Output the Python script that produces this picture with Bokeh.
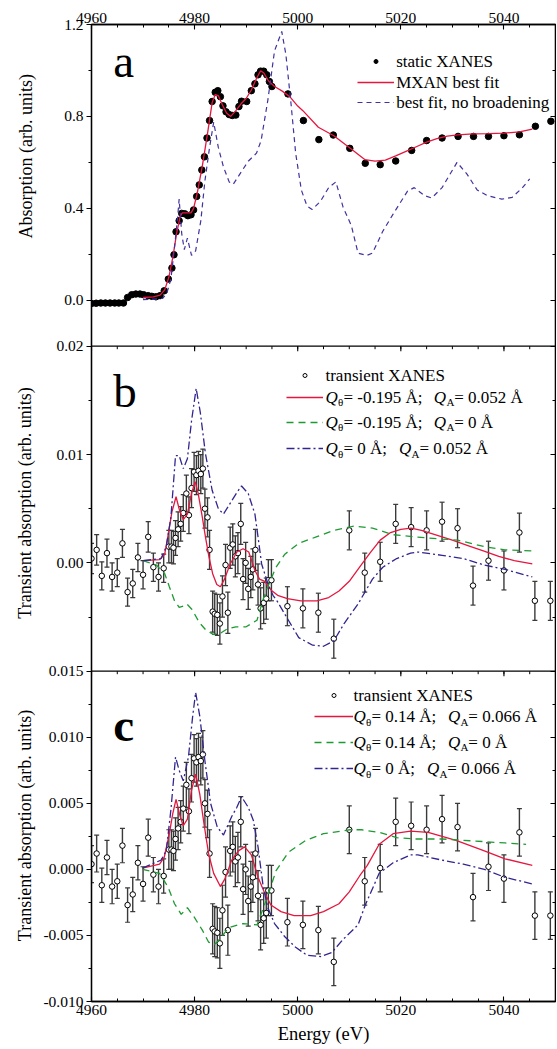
import math
from bokeh.plotting import figure
from bokeh.layouts import row
from bokeh.models import (Range1d, LinearAxis, FixedTicker, Label, Legend,
                          LegendItem, Span, BasicTickFormatter)
from bokeh.embed import file_html
from bokeh.resources import INLINE

# ---------------------------------------------------------------- data
# panel a : static XANES
energy_static = [4960.0, 4960.9, 4961.8, 4962.7, 4963.6, 4964.5, 4965.3, 4966.2,
                 4967.0, 4967.8, 4968.6, 4969.4, 4970.1, 4971.0, 4971.7, 4972.5,
                 4973.3, 4974.1, 4974.9, 4975.6, 4976.0, 4976.4, 4977.0, 4977.5,
                 4978.1, 4978.7, 4979.3, 4979.8, 4980.4, 4980.9, 4981.4, 4981.9,
                 4982.4, 4982.9, 4983.4, 4984.0, 4984.5, 4985.0, 4985.5, 4986.1,
                 4986.7, 4987.3, 4988.0, 4988.6, 4989.1, 4990.1, 4991.0, 4991.7,
                 4992.3, 4992.8, 4993.4, 4994.0, 4994.5, 4995.0, 4998.1, 5001.1,
                 5004.1, 5006.9, 5010.1, 5013.1, 5016.0, 5019.0, 5022.1, 5025.0,
                 5028.0, 5031.1, 5034.1, 5037.0, 5040.0, 5043.0, 5046.1, 5049.1]
absorption_static = [-0.014, -0.013, -0.012, -0.012, -0.012, -0.012, -0.012, -0.012,
                     0.012, 0.024, 0.027, 0.027, 0.024, 0.020, 0.017, 0.015,
                     0.020, 0.041, 0.092, 0.140, 0.198, 0.298, 0.346, 0.378,
                     0.376, 0.368, 0.372, 0.393, 0.452, 0.502, 0.567, 0.624,
                     0.706, 0.782, 0.865, 0.905, 0.912, 0.886, 0.846, 0.820,
                     0.808, 0.804, 0.806, 0.843, 0.866, 0.865, 0.912, 0.942,
                     0.981, 0.997, 0.997, 0.981, 0.952, 0.930, 0.898, 0.782,
                     0.699, 0.719, 0.661, 0.596, 0.590, 0.606, 0.652, 0.695,
                     0.706, 0.713, 0.713, 0.713, 0.716, 0.720, 0.757, 0.779]

energy_mxan = [4970.0, 4972.0, 4973.3, 4974.2, 4975.0, 4975.8, 4976.5, 4977.2, 4977.6,
               4978.5, 4979.3, 4979.8, 4980.5, 4981.5, 4982.5, 4983.4, 4984.0, 4984.6,
               4985.4, 4986.2, 4987.0, 4988.0, 4989.0, 4990.0, 4991.0, 4992.0, 4992.8,
               4993.4, 4994.3, 4995.5, 4997.0, 4998.5, 5000.0, 5001.0, 5004.0, 5007.0,
               5010.0, 5013.0, 5015.0, 5017.0, 5019.0, 5021.0, 5023.0, 5025.0, 5027.0,
               5029.0, 5031.0, 5034.0, 5037.0, 5040.0, 5043.0, 5045.5]
mxan_fit = [0.012, 0.015, 0.022, 0.045, 0.100, 0.190, 0.290, 0.365, 0.380,
            0.380, 0.380, 0.400, 0.465, 0.585, 0.725, 0.860, 0.895, 0.890,
            0.850, 0.815, 0.800, 0.825, 0.855, 0.878, 0.915, 0.965, 0.998,
            0.990, 0.955, 0.930, 0.910, 0.885, 0.845, 0.825, 0.753, 0.716,
            0.665, 0.612, 0.605, 0.610, 0.628, 0.648, 0.668, 0.688, 0.703,
            0.714, 0.720, 0.724, 0.725, 0.727, 0.733, 0.745]

energy_nobroad = [4970.0, 4972.0, 4973.8, 4974.6, 4975.4, 4976.1, 4976.7, 4977.0, 4977.5,
                  4978.0, 4978.6, 4979.4, 4980.2, 4981.2, 4982.0, 4982.9, 4983.7, 4984.6,
                  4985.6, 4986.7, 4987.5, 4988.8, 4990.4, 4992.0, 4992.9, 4994.2, 4995.5,
                  4996.9, 4997.7, 4998.7, 4999.6, 5000.7, 5001.8, 5002.8, 5004.4, 5006.0,
                  5007.4, 5008.8, 5010.4, 5011.7, 5013.4, 5014.5, 5016.5, 5018.5, 5021.3,
                  5022.6, 5024.6, 5026.0, 5028.0, 5030.9, 5032.8, 5034.8, 5036.8, 5039.6,
                  5041.6, 5043.6, 5045.0]
nobroad_fit = [0.003, 0.005, 0.008, 0.030, 0.092, 0.230, 0.360, 0.440, 0.290,
               0.220, 0.270, 0.195, 0.215, 0.345, 0.520, 0.665, 0.775, 0.665,
               0.580, 0.515, 0.505, 0.550, 0.605, 0.640, 0.695, 0.870, 1.085,
               1.170, 1.070, 0.855, 0.640, 0.480, 0.410, 0.395, 0.430, 0.490,
               0.515, 0.405, 0.325, 0.205, 0.195, 0.205, 0.300, 0.375, 0.475,
               0.490, 0.455, 0.445, 0.490, 0.600, 0.550, 0.480, 0.455, 0.440,
               0.448, 0.490, 0.528]

# panels b and c : transient XANES (same measurement in both panels)
energy_tr = [4960.0, 4961.0, 4962.0, 4963.0, 4964.0, 4965.0, 4966.0, 4967.0, 4968.0,
             4969.0, 4970.0, 4971.0, 4972.0, 4973.0, 4974.0,
             4975.0, 4975.5, 4975.9, 4976.3, 4976.8, 4977.3, 4977.8, 4978.4, 4978.9,
             4979.4, 4979.9, 4980.35, 4980.75, 4981.2, 4981.6, 4982.0, 4982.5, 4982.9,
             4983.5, 4983.9, 4984.4, 4984.9, 4985.4, 4986.0, 4986.45, 4986.9, 4987.4,
             4987.9, 4988.4, 4988.95, 4989.4, 4989.9, 4990.4, 4990.9, 4991.3, 4991.8,
             4992.3, 4992.8, 4993.4, 4993.9, 4994.3, 4994.9,
             4998.0, 5001.0, 5004.0, 5007.0, 5010.0, 5013.0, 5016.0, 5019.0, 5022.0,
             5025.0, 5028.0, 5031.0, 5034.0, 5037.0, 5040.0, 5043.0, 5046.0, 5049.0]
transient = [0.0004, 0.0012, -0.0012, 0.0009, -0.0013, -0.0009, 0.0018, -0.0027, -0.0019,
             0.0005, -0.0011, 0.0024, -0.0004, -0.0013, -0.0005,
             0.0015, 0.0015, 0.0014, 0.0023, 0.0031, 0.0036, 0.0046, 0.0064, 0.0044,
             0.0069, 0.0084, 0.0081, 0.0085, 0.0082, 0.0087, 0.0050, 0.0042, 0.0012,
             -0.0045, -0.0047, -0.0048, -0.0056, -0.0031, -0.0002, -0.0046, 0.0014, 0.0017,
             0.0006, 0.0009, 0.0036, -0.0015, 0.0000, -0.0024, -0.0013, -0.0006, 0.0012,
             -0.0020, -0.0042, -0.0037, -0.0033, -0.0016, -0.0016,
             -0.0040, -0.0042, -0.0046, -0.0070, 0.0030, -0.0009, 0.0001, 0.0036, 0.0033,
             0.0030, 0.0038, 0.0032, -0.0021, 0.0002, -0.0007, 0.0028, -0.0035, -0.0035]
transient_err = [0.0014, 0.0014, 0.0013, 0.0013, 0.0013, 0.0013, 0.0013, 0.0013, 0.0013,
                 0.0013, 0.0013, 0.0014, 0.0013, 0.0013, 0.0013,
                 0.0015, 0.0015, 0.0015, 0.0016, 0.0016, 0.0016, 0.0017, 0.0017, 0.0017,
                 0.0018, 0.0018, 0.0018, 0.0018, 0.0018, 0.0018, 0.0018, 0.0018, 0.0018,
                 0.0019, 0.0019, 0.0019, 0.0019, 0.0019, 0.0019, 0.0019, 0.0019, 0.0019,
                 0.0019, 0.0019, 0.0019, 0.0019, 0.0019, 0.0019, 0.0019, 0.0019, 0.0019,
                 0.0019, 0.0019, 0.0019, 0.0019, 0.0019, 0.0019,
                 0.0018, 0.0018, 0.0018, 0.0018, 0.0018, 0.0018, 0.0018, 0.0018, 0.0018,
                 0.0018, 0.0018, 0.0018, 0.0018, 0.0018, 0.0018, 0.0018, 0.0018, 0.0018]

# panel b model curves
energy_b_full = [4970.0, 4973.2, 4974.2, 4974.8, 4975.6, 4976.4, 4977.1, 4977.8, 4978.6,
                 4979.4, 4980.1, 4980.7, 4981.5, 4982.1, 4982.8, 4983.5, 4984.3, 4985.0,
                 4985.8, 4986.9, 4988.2, 4989.4, 4990.5, 4991.7, 4992.6, 4993.6, 4994.8,
                 4996.1, 4998.0, 5000.6, 5003.7, 5006.0, 5008.0, 5010.0, 5012.0, 5014.0,
                 5016.0, 5018.0, 5020.0, 5022.0, 5024.0, 5026.0, 5028.0, 5030.0, 5033.0,
                 5036.0, 5039.0, 5042.0, 5045.5]
b_full = [0.0002, 0.0003, 0.0008, 0.0024, 0.0047, 0.0061, 0.0048, 0.0040, 0.0045,
          0.0064, 0.0075, 0.0064, 0.0042, 0.0024, 0.0005, -0.0010, -0.0020, -0.0022,
          -0.0015, -0.0001, 0.0010, 0.0013, 0.0010, -0.0007, -0.0015, -0.0017, -0.0025,
          -0.0030, -0.0033, -0.0035, -0.0035, -0.0032, -0.0026, -0.0017, -0.0004, 0.0009,
          0.0021, 0.0028, 0.0031, 0.0032, 0.0030, 0.0027, 0.0024, 0.0021, 0.0016,
          0.0011, 0.0006, 0.0002, -0.0001]
energy_b_theta = [4970.0, 4972.6, 4974.2, 4975.1, 4976.1, 4977.0, 4977.8, 4978.5, 4979.5,
                  4980.9, 4982.2, 4983.6, 4985.0, 4986.3, 4988.0, 4990.0, 4992.1, 4993.4,
                  4994.8, 4995.8, 4997.5, 5000.2, 5003.6, 5007.0, 5011.0, 5014.5, 5018.5,
                  5022.6, 5028.0, 5031.0, 5036.2, 5040.2, 5045.5]
b_theta = [0.0002, -0.0002, -0.0010, -0.0022, -0.0035, -0.0041, -0.0040, -0.0038, -0.0043,
           -0.0055, -0.0062, -0.0066, -0.0065, -0.0061, -0.0059, -0.0059, -0.0053, -0.0032,
           -0.0015, -0.0004, 0.0008, 0.0018, 0.0024, 0.0030, 0.0034, 0.0032, 0.0026,
           0.0024, 0.0022, 0.0021, 0.0015, 0.0012, 0.0011]
energy_b_a = [4970.0, 4973.5, 4974.5, 4975.4, 4976.3, 4977.0, 4977.8, 4978.6, 4979.4,
              4980.3, 4981.1, 4982.1, 4983.4, 4984.6, 4985.6, 4986.9, 4988.2, 4989.1,
              4990.4, 4991.7, 4992.3, 4993.0, 4994.2, 4995.2, 4996.1, 4998.2, 5000.2,
              5002.9, 5005.0, 5007.0, 5009.0, 5011.7, 5014.5, 5016.5, 5019.2, 5021.9,
              5023.3, 5028.0, 5032.1, 5036.2, 5040.2, 5045.5]
b_a = [0.0002, 0.0004, 0.0015, 0.0042, 0.0099, 0.0099, 0.0087, 0.0096, 0.0131,
       0.0161, 0.0139, 0.0101, 0.0067, 0.0050, 0.0045, 0.0055, 0.0065, 0.0071,
       0.0064, 0.0045, 0.0024, -0.0001, -0.0019, -0.0030, -0.0036, -0.0053, -0.0069,
       -0.0076, -0.0077, -0.0072, -0.0056, -0.0038, -0.0015, -0.0004, 0.0004, 0.0009,
       0.0010, 0.0007, 0.0004, -0.0002, -0.0006, -0.0013]

# panel c model curves
energy_c_full = [4969.9, 4973.2, 4974.1, 4975.1, 4975.75, 4976.4, 4977.2, 4977.8, 4978.6,
                 4979.4, 4980.2, 4981.0, 4981.8, 4982.7, 4983.7, 4985.0, 4985.9, 4987.2,
                 4988.5, 4989.7, 4991.0, 4992.3, 4993.6, 4994.8, 4996.75, 4999.3, 5002.5,
                 5005.0, 5008.0, 5010.0, 5012.0, 5013.5, 5015.8, 5018.5, 5021.9, 5025.3,
                 5030.7, 5036.2, 5040.2, 5045.5]
c_full = [0.0001, 0.0004, 0.0009, 0.0027, 0.0042, 0.0053, 0.0040, 0.0033, 0.0038,
          0.0060, 0.0072, 0.0057, 0.0035, 0.0012, -0.0003, -0.0013, -0.0007, 0.0007,
          0.0014, 0.0017, 0.0011, -0.0006, -0.0018, -0.0027, -0.0032, -0.0035, -0.0035,
          -0.0032, -0.0026, -0.0017, -0.0005, 0.0003, 0.0019, 0.0027, 0.0029, 0.0028,
          0.0022, 0.0014, 0.0008, 0.0003]
energy_c_theta = [4969.9, 4973.2, 4974.8, 4976.1, 4977.4, 4978.6, 4979.9, 4981.5, 4982.7,
                  4983.8, 4984.6, 4986.65, 4989.4, 4992.1, 4994.1, 4995.8, 4998.2, 5001.6,
                  5005.0, 5010.1, 5012.4, 5015.8, 5019.2, 5022.6, 5028.0, 5032.1, 5036.2,
                  5040.2, 5044.3]
c_theta = [0.0000, -0.0003, -0.0013, -0.0026, -0.0034, -0.0029, -0.0036, -0.0046, -0.0055,
           -0.0057, -0.0054, -0.0044, -0.0041, -0.0042, -0.0021, -0.0001, 0.0013, 0.0022,
           0.0027, 0.0030, 0.0030, 0.0028, 0.0024, 0.0023, 0.0023, 0.0022, 0.0021,
           0.0020, 0.0019]
energy_c_a = [4969.9, 4973.5, 4974.5, 4975.4, 4976.3, 4977.0, 4977.8, 4978.8, 4979.6,
              4980.2, 4981.0, 4982.0, 4983.1, 4984.4, 4985.6, 4987.2, 4988.2, 4989.1,
              4990.4, 4991.4, 4992.3, 4993.3, 4994.2, 4995.5, 4997.5, 4999.6, 5001.8,
              5004.4, 5006.6, 5008.8, 5011.7, 5013.1, 5015.8, 5018.5, 5021.9, 5023.3,
              5028.0, 5032.1, 5036.2, 5040.2, 5045.5]
c_a = [0.0001, 0.0007, 0.0014, 0.0045, 0.0085, 0.0075, 0.0067, 0.0085, 0.0115,
       0.0134, 0.0116, 0.0082, 0.0050, 0.0032, 0.0026, 0.0040, 0.0047, 0.0055,
       0.0047, 0.0037, 0.0017, -0.0013, -0.0029, -0.0041, -0.0051, -0.0059, -0.0065,
       -0.0066, -0.0063, -0.0053, -0.0042, -0.0027, -0.0003, 0.0005, 0.0011, 0.0011,
       0.0007, 0.0004, 0.0000, -0.0006, -0.0011]

# axis ticks
energy_ticks = [4960, 4980, 5000, 5020, 5040]
energy_minor = [4960 + 5 * i for i in range(19)]
ticks_a = [0.0, 0.4, 0.8, 1.2]
tick_labels_a = ["0.0", "0.4", "0.8", "1.2"]
minor_a = [0.2, 0.6, 1.0]
ticks_b = [0.0, 0.01, 0.02]
tick_labels_b = ["0.00", "0.01", "0.02"]
minor_b = [-0.005, 0.005, 0.015]
ticks_c = [-0.010, -0.005, 0.0, 0.005, 0.010, 0.015]
tick_labels_c = ["-0.010", "-0.005", "0.000", "0.005", "0.010", "0.015"]
minor_c = [-0.0075, -0.0025, 0.0025, 0.0075, 0.0125]

# ---------------------------------------------------------------- layout
FONT = "Liberation Serif"
RED = "#E5173F"
BLUE_A = "#3F339F"
BLUE = "#31268F"
GREEN = "#1F9A33"
BAR = "#3a3a3a"

TITLE_W = 40
W_MAIN, H_CANVAS = 516, 1048
B_LEFT, B_RIGHT, B_TOP, B_BOTTOM = 44, 1, 24, 47
FW = W_MAIN - B_LEFT - B_RIGHT          # 471
FH = H_CANVAS - B_TOP - B_BOTTOM        # 977

X0, X1 = 4960.0, 5050.0
# vertical layout expressed in page pixels (frame top 24, bottom 1001)
REF_TOP, REF_BOT = 24.0, 1001.0
BANDS = {"a": (-0.2, 1.2, 24.0, 345.7),
         "b": (-0.010, 0.020, 345.7, 670.7),
         "c": (-0.010, 0.015, 670.7, 1001.0)}


def band_range(lo, hi, top, bot):
    s = (hi - lo) / (bot - top)
    return Range1d(start=lo - (REF_BOT - bot) * s, end=hi + (top - REF_TOP) * s)


def ref_y(panel, v):
    lo, hi, top, bot = BANDS[panel]
    return round(top + (hi - v) / (hi - lo) * (bot - top), 3)


PX_PER_EV = FW / (X1 - X0)
LEFT_PX = TITLE_W + B_LEFT              # page x of the frame's left edge


def ex(xr):
    """page pixel x -> energy"""
    return X0 + (xr - LEFT_PX) / PX_PER_EV


p = figure(width=W_MAIN, height=H_CANVAS,
           x_range=Range1d(X0, X1), y_range=Range1d(REF_BOT, REF_TOP),
           x_axis_location=None, y_axis_location=None,
           output_backend="svg", toolbar_location=None,
           min_border_left=B_LEFT, min_border_right=B_RIGHT,
           min_border_top=B_TOP, min_border_bottom=B_BOTTOM)
p.extra_y_ranges = {k: band_range(*v) for k, v in BANDS.items()}
p.grid.visible = False
p.outline_line_color = "black"
p.outline_line_width = 1.3
p.background_fill_color = "white"
p.border_fill_color = "white"


def style_axis(ax, size="15.5px"):
    ax.axis_line_color = "black"
    ax.axis_line_width = 1.3
    ax.major_tick_line_color = "black"
    ax.minor_tick_line_color = "black"
    ax.major_tick_line_width = 1.1
    ax.minor_tick_line_width = 1.0
    ax.major_label_text_font = FONT
    ax.major_label_text_font_size = size
    ax.major_label_text_color = "black"
    ax.axis_label_text_font = FONT
    ax.axis_label_text_font_style = "normal"
    ax.axis_label_text_color = "black"


# x axes (top and bottom), ticks pointing inwards
x_ticker = FixedTicker(ticks=energy_ticks, minor_ticks=energy_minor)
top_ax = LinearAxis(ticker=x_ticker, formatter=BasicTickFormatter(use_scientific=False),
                    major_tick_in=5, major_tick_out=0, minor_tick_in=3, minor_tick_out=0,
                    major_label_standoff=2)
style_axis(top_ax)
p.add_layout(top_ax, "above")
bot_ax = LinearAxis(ticker=x_ticker, formatter=BasicTickFormatter(use_scientific=False),
                    major_tick_in=5, major_tick_out=0, minor_tick_in=3, minor_tick_out=0,
                    major_label_standoff=3, axis_label="Energy (eV)",
                    axis_label_standoff=6, axis_label_text_font_size="18.5px")
style_axis(bot_ax)
p.add_layout(bot_ax, "below")

# y axis: one composite axis carrying the three panels' ticks
major_pos, minor_pos, overrides = [], [], {}
for panel, vals, labs, mins in [("a", ticks_a, tick_labels_a, minor_a),
                                ("b", ticks_b, tick_labels_b, minor_b),
                                ("c", ticks_c, tick_labels_c, minor_c)]:
    for v, lab in zip(vals, labs):
        pos = ref_y(panel, v)
        major_pos.append(pos)
        overrides[pos] = lab
    for v in mins:
        minor_pos.append(ref_y(panel, v))
y_ticker = FixedTicker(ticks=major_pos, minor_ticks=minor_pos)
left_ax = LinearAxis(ticker=y_ticker, major_label_overrides=overrides,
                     major_tick_in=0, major_tick_out=5, minor_tick_in=0, minor_tick_out=3,
                     major_label_standoff=3)
style_axis(left_ax)
p.add_layout(left_ax, "left")
right_ax = LinearAxis(ticker=y_ticker, major_label_overrides={k: "" for k in overrides},
                      major_tick_in=5, major_tick_out=0, minor_tick_in=3, minor_tick_out=0,
                      major_label_standoff=0)
style_axis(right_ax, "1px")
p.add_layout(right_ax, "right")

# panel boundaries with their inward x ticks
for b in (BANDS["b"][2], BANDS["c"][2]):
    p.add_layout(Span(location=b, dimension="width", line_color="black", line_width=1.3))
    p.segment(x0=energy_ticks, x1=energy_ticks, y0=[b] * len(energy_ticks),
              y1=[b + 5] * len(energy_ticks), line_color="black", line_width=1.1)
    p.segment(x0=energy_minor, x1=energy_minor, y0=[b] * len(energy_minor),
              y1=[b + 3] * len(energy_minor), line_color="black", line_width=1.0)

# ---------------------------------------------------------------- panel a
r_static = p.scatter(energy_static, absorption_static, y_range_name="a",
                     size=6.5, color="black")
r_mxan = p.line(energy_mxan, mxan_fit, y_range_name="a", color=RED, line_width=1.3)
r_nob = p.line(energy_nobroad, nobroad_fit, y_range_name="a", color=BLUE_A,
               line_width=1.2, line_dash="5 4")

# ---------------------------------------------------------------- panels b, c
curves = {}
for panel, full_x, full_y, th_x, th_y, a_x, a_y in [
        ("b", energy_b_full, b_full, energy_b_theta, b_theta, energy_b_a, b_a),
        ("c", energy_c_full, c_full, energy_c_theta, c_theta, energy_c_a, c_a)]:
    lo = [v - e for v, e in zip(transient, transient_err)]
    hi = [v + e for v, e in zip(transient, transient_err)]
    p.segment(x0=energy_tr, x1=energy_tr, y0=lo, y1=hi, y_range_name=panel,
              line_color=BAR, line_width=1.4)
    p.scatter(energy_tr, lo, y_range_name=panel, marker="dash", size=5,
              line_color=BAR, line_width=1.2)
    p.scatter(energy_tr, hi, y_range_name=panel, marker="dash", size=5,
              line_color=BAR, line_width=1.2)
    rd = p.scatter(energy_tr, transient, y_range_name=panel, marker="circle", size=5.5,
                   fill_color="white", line_color="black", line_width=1.0)
    rf = p.line(full_x, full_y, y_range_name=panel, color=RED, line_width=1.3)
    rt = p.line(th_x, th_y, y_range_name=panel, color=GREEN, line_width=1.3,
                line_dash="7 5")
    ra = p.line(a_x, a_y, y_range_name=panel, color=BLUE, line_width=1.3,
                line_dash="8 3 2 3")
    curves[panel] = (rd, rf, rt, ra)

# ---------------------------------------------------------------- legends
def frame_xy(xr, yr):
    return (xr - LEFT_PX, (REF_BOT - yr) / (REF_BOT - REF_TOP) * FH)


def key(renderer, xr_left, xr_right, yr):
    fx, fy = frame_xy(xr_left, yr)
    leg = Legend(items=[LegendItem(label=" ", renderers=[renderer])],
                 location=(fx, fy - 5), orientation="vertical",
                 glyph_width=int(round(xr_right - xr_left)), glyph_height=10,
                 label_height=10, label_width=0, label_standoff=0,
                 label_text_font_size="1px", padding=0, margin=0, spacing=0,
                 border_line_alpha=0, background_fill_alpha=0)
    p.add_layout(leg)


def text(xr, yr, s, size="17px", style="normal"):
    p.add_layout(Label(x=ex(xr), y=yr, text=s, text_font=FONT,
                       text_font_size=size, text_font_style=style,
                       text_baseline="middle", text_align="left", text_color="black"))


ADV = {" ": 250, "-": 333, ".": 250, ";": 278, "=": 564, "Å": 722, "A": 722,
       "Q": 722, "θ": 500}


def tw(s, size):
    return sum(ADV.get(ch, 500) for ch in s) * size / 1000.0


def q_row(xr, yr, q1, q2):
    """Q_θ= q1 Å;  Q_A= q2 Å with italic Q and subscripts"""
    parts = [("Q", "it"), ("θ", "sub"), ("= " + q1 + " Å;", "n"), (None, "gap"),
             ("Q", "it"), ("A", "sub"), ("= " + q2 + " Å", "n")]
    cur = 0.0
    for s, kind in parts:
        if kind == "gap":
            cur += 0.75 * 17
            continue
        size = 11 if kind == "sub" else 17
        dy = 5 if kind == "sub" else 0
        p.add_layout(Label(x=ex(xr + cur), y=yr + dy, text=s,
                           text_font=FONT, text_font_size=f"{size}px",
                           text_font_style="italic" if kind == "it" else "normal",
                           text_baseline="middle", text_align="left",
                           text_color="black"))
        cur += tw(s, size) + (0.5 if kind == "it" else 0)


# panel a legend
key(r_static, 350, 387, 61)
key(r_mxan, 350, 387, 81.7)
key(r_nob, 350, 387, 102)
text(393.3, 61, "static XANES")
text(393.3, 81.7, "MXAN best fit")
text(393.3, 102, "best fit, no broadening")

# panel b legend
rd, rf, rt, ra = curves["b"]
key(rd, 279, 316, 375)
key(rf, 279, 316, 396.7)
key(rt, 279, 316, 421.7)
key(ra, 279, 316, 448.3)
text(321.5, 375, "transient XANES")
q_row(321.5, 396.7, "-0.195", "0.052")
q_row(321.5, 421.7, "-0.195", "0")
q_row(321.5, 448.3, "0", "0.052")

# panel c legend
rd, rf, rt, ra = curves["c"]
key(rd, 307.3, 346.4, 695)
key(rf, 307.3, 346.4, 716)
key(rt, 307.3, 346.4, 741.7)
key(ra, 307.3, 346.4, 768.3)
text(349.9, 695, "transient XANES")
q_row(349.9, 716, "0.14", "0.066")
q_row(349.9, 741.7, "0.14", "0")
q_row(349.9, 768.3, "0", "0.066")

# panel letters (anchor = middle of the text box; baseline sits 0.34 em below it)
LETTER_SIZE = 47
for s, baseline, st in [("a", 76, "normal"), ("b", 406.7, "normal"), ("c", 740, "bold")]:
    p.add_layout(Label(x=ex(106), y=baseline - 0.3375 * LETTER_SIZE, text=s,
                       text_font=FONT, text_font_size=f"{LETTER_SIZE}px",
                       text_font_style=st, text_baseline="middle", text_align="left",
                       text_color="black"))

# ---------------------------------------------------------------- y titles strip
t = figure(width=TITLE_W, height=H_CANVAS, x_range=Range1d(0, TITLE_W),
           y_range=Range1d(REF_BOT, REF_TOP), x_axis_location=None,
           y_axis_location=None, output_backend="svg", toolbar_location=None,
           min_border_left=0, min_border_right=0,
           min_border_top=B_TOP, min_border_bottom=B_BOTTOM)
t.grid.visible = False
t.outline_line_color = None
t.background_fill_color = "white"
t.border_fill_color = "white"
for s, xr, yr in [("Absorption (arb. units)", 25.7, 155.8),
                  ("Transient absorption (arb. units)", 24.0, 502.5),
                  ("Transient absorption (arb. units)", 24.0, 825.0)]:
    t.add_layout(Label(x=xr, y=yr, text=s, angle=math.pi / 2,
                       text_font=FONT, text_font_size="18px",
                       text_align="center", text_baseline="middle", text_color="black"))

layout = row(t, p, spacing=0)
open("out.html", "w").write(file_html(layout, INLINE, title="XANES"))
